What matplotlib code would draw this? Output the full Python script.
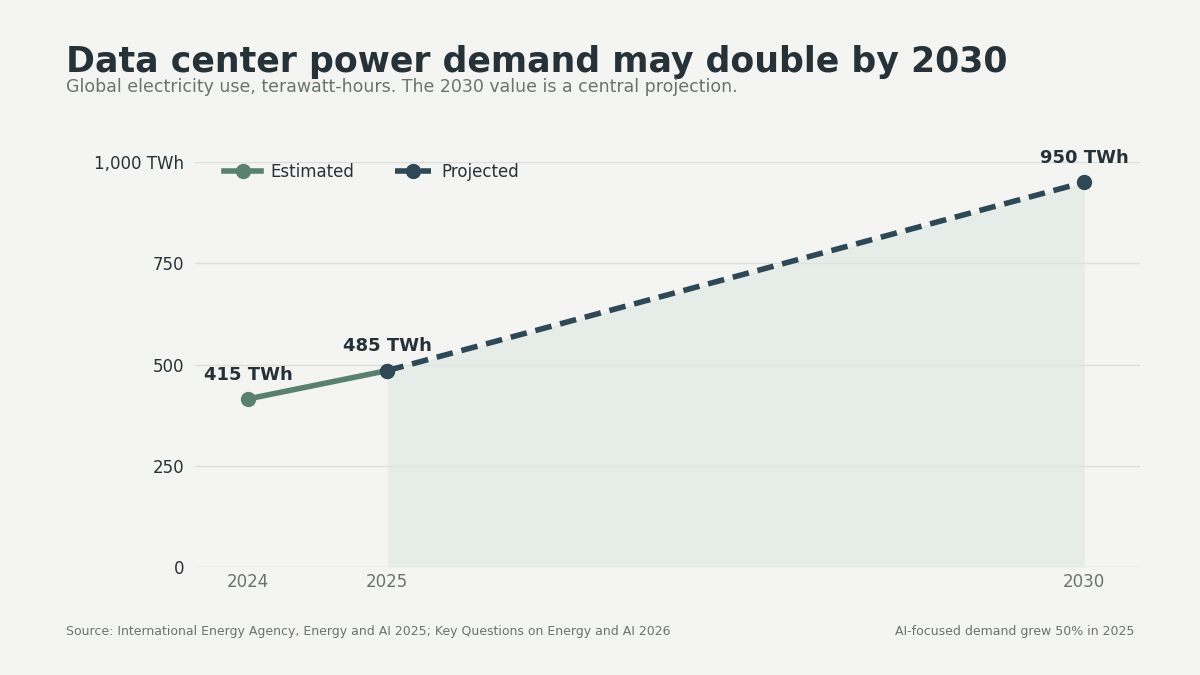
import matplotlib
matplotlib.use("Agg")
import matplotlib.pyplot as plt
from matplotlib.ticker import FuncFormatter

est_years = [2024, 2025]
est_vals = [415, 485]
proj_years = [2025, 2030]
proj_vals = [485, 950]
labels = ["415 TWh", "485 TWh", "950 TWh"]
yticks = [0, 250, 500, 750, 1000]

bg = "#f4f5f3"
c_est = "#5a7f73"
c_proj = "#2e4856"
dark = "#263238"

fig = plt.figure(figsize=(12, 6.75), dpi=100, facecolor=bg)
ax = fig.add_axes([0.1625, 0.16, 0.7875, 0.60])
ax.set_facecolor(bg)

ax.fill_between(proj_years, proj_vals, 0, color="#dde6e2", alpha=0.6, lw=0)
ax.plot(est_years, est_vals, color=c_est, lw=4, marker="o", ms=10, label="Estimated", zorder=3)
ax.plot(proj_years, proj_vals, color=c_proj, lw=4, ls=(0, (3, 1.6)), marker="o", ms=10,
        label="Projected", zorder=4)

for x, y, t in zip([2024, 2025, 2030], [415, 485, 950], labels):
    ax.annotate(t, (x, y), xytext=(0, 11), textcoords="offset points", ha="center",
                va="bottom", fontsize=13, fontweight="bold", color=dark)

ax.set_xlim(2023.62, 2030.40)
ax.set_ylim(0, 1000)
ax.set_yticks(yticks)
ax.yaxis.set_major_formatter(FuncFormatter(lambda v, p: "1,000 TWh" if v == 1000 else f"{int(v)}"))
ax.set_xticks([2024, 2025, 2030])
ax.set_xticklabels(["2024", "2025", "2030"])
ax.grid(axis="y", color="#dcdfdc", lw=1)
ax.set_axisbelow(True)
for s in ax.spines.values():
    s.set_visible(False)
ax.tick_params(axis="y", length=0, labelsize=12, labelcolor=dark, pad=8)
ax.tick_params(axis="x", length=0, labelsize=12, labelcolor="#6b7270", pad=4)

leg = ax.legend(loc="upper left", bbox_to_anchor=(0.015, 1.035), ncol=2, frameon=False,
                fontsize=12, handlelength=2.2, handletextpad=0.6, columnspacing=2.4)
for t in leg.get_texts():
    t.set_color(dark)

fig.text(0.055, 0.893, "Data center power demand may double by 2030", fontsize=25,
         fontweight="bold", color=dark)
fig.text(0.055, 0.863, "Global electricity use, terawatt-hours. The 2030 value is a central projection.",
         fontsize=12.5, color="#6b7270")
fig.text(0.055, 0.06, "Source: International Energy Agency, Energy and AI 2025; Key Questions on Energy and AI 2026",
         fontsize=9, color="#6b7270")
fig.text(0.945, 0.06, "AI-focused demand grew 50% in 2025", fontsize=9, color="#6b7270", ha="right")

fig.savefig("out.png", dpi=100, facecolor=bg)
